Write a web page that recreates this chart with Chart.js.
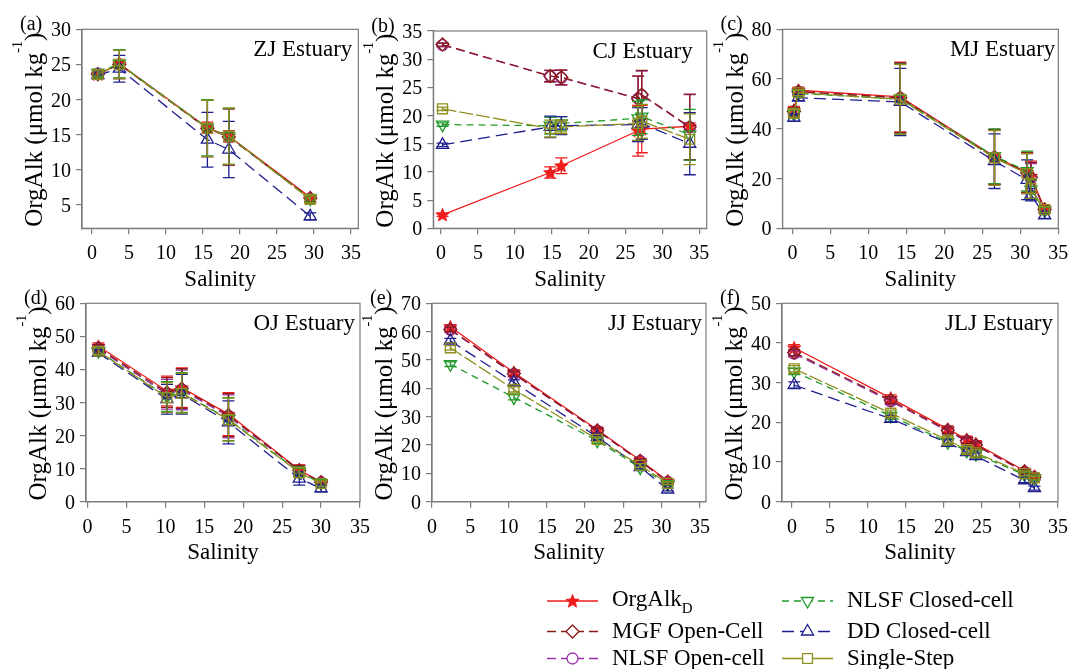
<!DOCTYPE html>
<html>
<head>
<meta charset="utf-8">
<script src="https://cdn.jsdelivr.net/npm/chart.js@4.4.1/dist/chart.umd.min.js"></script>
<style>
html,body{margin:0;padding:0;background:#fff;}
#wrap{position:relative;width:1069px;height:669px;overflow:hidden;background:#fff;}
#wrap canvas{position:absolute;left:0;top:0;}
</style>
</head>
<body>
<div id="wrap">
<canvas id="cA" width="1069" height="669"></canvas>
<canvas id="cB" width="1069" height="669"></canvas>
<canvas id="cC" width="1069" height="669"></canvas>
<canvas id="cD" width="1069" height="669"></canvas>
<canvas id="cE" width="1069" height="669"></canvas>
<canvas id="cF" width="1069" height="669"></canvas>
<canvas id="cL" width="1069" height="669"></canvas>
</div>
<script>
// ---------------- DATA ----------------
const seriesNames = ['OrgAlk_D', 'MGF Open-Cell', 'NLSF Open-cell', 'NLSF Closed-cell', 'DD Closed-cell', 'Single-Step'];
const salinityTicks = [0, 5, 10, 15, 20, 25, 30, 35];

// (a) ZJ Estuary
const zjSalinity   = [0.8, 3.7, 15.6, 18.5, 29.5];
const zjOrgAlkD    = [23.6, 25.1, 16.0, 14.8, 6.1];
const zjMGF        = [23.6, 25.0, 15.9, 14.7, 6.0];
const zjNLSFOpen   = [23.7, 25.0, 15.9, 14.7, 5.9];
const zjNLSFClosed = [23.8, 25.1, 16.0, 14.8, 5.9];
const zjDD         = [23.5, 24.4, 14.3, 12.9, 3.4];
const zjSingle     = [23.6, 25.0, 15.9, 14.8, 5.8];
const zjErrD       = [0.4, 0.6, 0.8, 0.8, 0.3];
const zjErrMGF     = [0.5, 2.0, 4.0, 4.0, 0.5];
const zjErrNLSFO   = [0.5, 2.0, 4.0, 4.0, 0.5];
const zjErrNLSFC   = [0.5, 2.0, 4.0, 4.0, 0.5];
const zjErrDD      = [0.5, 1.9, 3.9, 4.0, 0.5];
const zjErrSingle  = [0.5, 2.0, 4.0, 4.0, 0.5];
const zjYTicks     = [5, 10, 15, 20, 25, 30];

// (b) CJ Estuary
const cjSalinity   = [0.2, 14.8, 16.3, 26.7, 27.2, 33.7];
const cjOrgAlkD    = [2.4, 9.9, 11.1, 17.3, 17.6, 18.1];
const cjMGF        = [32.6, 27.0, 26.8, 23.0, 23.7, 18.0];
const cjNLSFOpen   = [32.5, 27.0, 26.7, 23.0, 23.6, 17.9];
const cjNLSFClosed = [18.4, 18.2, 18.6, 19.5, 19.8, 16.6];
const cjDD         = [14.8, 18.0, 18.2, 18.4, 18.6, 15.0];
const cjSingle     = [21.2, 17.7, 18.0, 18.6, 19.0, 15.8];
const cjErrD       = [0.3, 1.0, 1.4, 4.5, 4.2, 0.6];
const cjErrMGF     = [0.3, 1.0, 1.3, 4.0, 4.3, 5.8];
const cjErrNLSFO   = [0.3, 1.0, 1.3, 4.0, 4.3, 5.8];
const cjErrNLSFC   = [0.3, 1.5, 1.2, 3.0, 3.0, 4.5];
const cjErrDD      = [0.3, 1.9, 1.6, 3.0, 2.8, 5.5];
const cjErrSingle  = [0.3, 1.5, 1.2, 3.0, 3.0, 4.5];
const cjYTicks     = [0, 5, 10, 15, 20, 25, 30, 35];

// (c) MJ Estuary
const mjSalinity   = [0.2, 0.8, 14.2, 26.6, 30.9, 31.4, 33.2];
const mjOrgAlkD    = [47.5, 55.5, 52.8, 28.8, 22.5, 21.0, 7.8];
const mjMGF        = [47.0, 55.0, 52.5, 28.6, 22.3, 20.5, 7.6];
const mjNLSFOpen   = [46.5, 54.8, 52.3, 28.5, 22.0, 20.0, 7.4];
const mjNLSFClosed = [46.0, 54.2, 52.0, 29.0, 23.0, 15.5, 7.2];
const mjDD         = [44.5, 52.5, 50.8, 27.0, 19.5, 13.5, 5.2];
const mjSingle     = [46.2, 54.5, 51.8, 28.3, 22.0, 16.0, 7.5];
const mjErrD       = [1.5, 1.2, 14.0, 11.0, 8.0, 6.0, 1.2];
const mjErrMGF     = [1.5, 1.2, 14.0, 11.0, 8.0, 6.0, 1.2];
const mjErrNLSFO   = [1.5, 1.2, 14.0, 11.0, 8.0, 6.0, 1.2];
const mjErrNLSFC   = [1.5, 1.2, 14.0, 11.0, 8.0, 4.0, 1.2];
const mjErrDD      = [1.5, 1.2, 13.5, 11.0, 8.0, 2.5, 1.2];
const mjErrSingle  = [1.5, 1.2, 14.0, 11.0, 8.0, 4.0, 1.2];
const mjYTicks     = [0, 20, 40, 60, 80];

// (d) OJ Estuary
const ojSalinity   = [1.4, 10.2, 12.1, 18.1, 27.2, 30.0];
const ojOrgAlkD    = [47.0, 33.5, 34.5, 26.5, 9.6, 6.0];
const ojMGF        = [46.5, 33.0, 34.2, 26.2, 9.5, 5.9];
const ojNLSFOpen   = [46.2, 32.5, 33.8, 25.8, 9.4, 5.8];
const ojNLSFClosed = [45.5, 31.8, 33.0, 25.0, 9.0, 5.6];
const ojDD         = [45.0, 31.0, 32.5, 24.0, 7.0, 4.0];
const ojSingle     = [45.5, 31.5, 32.8, 24.8, 8.8, 5.5];
const ojErrD       = [1.0, 4.5, 6.0, 6.5, 1.5, 0.8];
const ojErrMGF     = [1.0, 4.5, 6.0, 6.5, 1.5, 0.8];
const ojErrNLSFO   = [1.0, 4.5, 6.0, 6.5, 1.5, 0.8];
const ojErrNLSFC   = [1.0, 4.5, 6.0, 6.5, 1.5, 0.8];
const ojErrDD      = [1.0, 4.5, 6.0, 6.5, 2.0, 1.0];
const ojErrSingle  = [1.0, 4.5, 6.0, 6.5, 1.5, 0.8];
const ojYTicks     = [0, 10, 20, 30, 40, 50, 60];

// (e) JJ Estuary
const jjSalinity   = [2.4, 10.7, 21.6, 27.2, 30.8];
const jjOrgAlkD    = [61.7, 45.6, 25.4, 14.6, 7.3];
const jjMGF        = [60.8, 45.2, 25.1, 14.4, 7.0];
const jjNLSFOpen   = [60.6, 45.0, 25.0, 14.3, 7.0];
const jjNLSFClosed = [48.5, 36.8, 21.5, 12.0, 6.2];
const jjDD         = [56.8, 42.1, 22.8, 12.2, 4.3];
const jjSingle     = [54.3, 39.6, 22.0, 12.8, 6.5];
const jjErrD       = [0.8, 0.9, 0.9, 0.6, 0.5];
const jjErrMGF     = [0.8, 0.9, 0.9, 0.6, 0.5];
const jjErrNLSFO   = [0.8, 0.9, 0.9, 0.6, 0.5];
const jjErrNLSFC   = [0.8, 0.9, 0.9, 0.6, 0.5];
const jjErrDD      = [0.8, 0.9, 0.9, 0.6, 0.5];
const jjErrSingle  = [0.8, 0.9, 0.9, 0.6, 0.5];
const jjYTicks     = [0, 10, 20, 30, 40, 50, 60, 70];

// (f) JLJ Estuary
const jljSalinity   = [0.3, 13.0, 20.5, 23.0, 24.2, 30.6, 31.9];
const jljOrgAlkD    = [38.8, 26.1, 18.3, 15.7, 14.6, 7.8, 6.4];
const jljMGF        = [37.6, 25.6, 18.0, 15.4, 14.3, 7.6, 6.2];
const jljNLSFOpen   = [37.3, 25.3, 17.8, 15.2, 14.1, 7.5, 6.1];
const jljNLSFClosed = [32.8, 21.6, 15.0, 12.8, 12.0, 6.8, 5.9];
const jljDD         = [29.4, 20.9, 14.8, 12.5, 11.5, 5.4, 3.4];
const jljSingle     = [33.5, 22.3, 15.5, 13.1, 12.3, 7.1, 6.0];
const jljErrD       = [0.8, 0.8, 0.8, 0.8, 0.8, 0.6, 0.5];
const jljErrMGF     = [0.8, 0.8, 0.8, 0.8, 0.8, 0.6, 0.5];
const jljErrNLSFO   = [0.8, 0.8, 0.8, 0.8, 0.8, 0.6, 0.5];
const jljErrNLSFC   = [0.8, 0.8, 0.8, 0.8, 0.8, 0.6, 0.5];
const jljErrDD      = [0.8, 0.8, 0.8, 0.8, 0.8, 0.6, 0.5];
const jljErrSingle  = [0.8, 0.8, 0.8, 0.8, 0.8, 0.6, 0.5];
const jljYTicks     = [0, 10, 20, 30, 40, 50];

// ---------------- STYLE ----------------
document.querySelectorAll('#wrap canvas').forEach(c => c.getContext('2d', {willReadFrequently: true}));

const FONT = '"Liberation Serif", serif';
Chart.defaults.font.family = FONT;
Chart.defaults.color = '#000';
const seriesColors  = ['#f01c1c', '#8b1a1a', '#9932a8', '#1f9a2a', '#1e1e8e', '#8f8f1f'];
const seriesDash    = [[], [9, 5], [9, 5], [7, 5], [12, 6], [14, 3]];
const seriesMarkers = ['star', 'rectRot', 'circle', 'triangleDown', 'triangle', 'rect'];
const markerRadius  = [7, 6.5, 5.5, 7, 7, 7];
const drawOrder     = [5, 3, 4, 2, 1, 0];
const frameColor = '#7a7a7a';
const HIDDEN = 'rgba(0,0,0,0)';

function starPath(ctx, x, y, r) {
  ctx.beginPath();
  for (let k = 0; k < 10; k++) {
    const rr = k % 2 ? r * 0.45 : r;
    const a = -Math.PI / 2 + k * Math.PI / 5;
    ctx.lineTo(x + rr * Math.cos(a), y + 0.5 + rr * Math.sin(a));
  }
  ctx.closePath();
}
function drawStar(ctx, x, y, r, color) {
  ctx.save();
  ctx.setLineDash([]);
  starPath(ctx, x, y, r);
  ctx.fillStyle = color; ctx.fill();
  ctx.strokeStyle = color; ctx.lineWidth = 0.8; ctx.stroke();
  ctx.restore();
}

function drawYTitle(ctx, area) {
  const cx = area.left, cy = (area.top + area.bottom) / 2 + 1;
  const main = 'OrgAlk (\u03bcmol kg', sup = '-1', end = ')';
  ctx.save();
  ctx.translate(cx, cy);
  ctx.rotate(-Math.PI / 2);
  ctx.fillStyle = '#000';
  ctx.textBaseline = 'alphabetic';
  ctx.textAlign = 'left';
  ctx.font = '25px ' + FONT;
  const w1 = ctx.measureText(main).width;
  const w3 = ctx.measureText(end).width;
  ctx.font = '14px ' + FONT;
  const w2 = ctx.measureText(sup).width;
  let x = -(w1 + w2 + w3) / 2;
  ctx.font = '25px ' + FONT;
  ctx.fillText(main, x, -40);
  x += w1;
  ctx.font = '14px ' + FONT;
  ctx.fillText(sup, x, -60);
  x += w2;
  ctx.font = '25px ' + FONT;
  ctx.fillText(end, x, -40);
  ctx.restore();
}

// axis labels drawn at the positions given by the chart's own scales
function drawAxisText(chart, yTickValues) {
  const ctx = chart.ctx, a = chart.chartArea, xs = chart.scales.x, ys = chart.scales.y;
  ctx.save();
  ctx.fillStyle = '#000';
  ctx.textBaseline = 'alphabetic';
  ctx.font = '20px ' + FONT;
  ctx.textAlign = 'center';
  xs.ticks.forEach(t => ctx.fillText(String(t.value), xs.getPixelForValue(t.value), a.bottom + 31));
  ctx.textAlign = 'right';
  ys.ticks.forEach(t => ctx.fillText(String(t.value), a.left - 11, ys.getPixelForValue(t.value) + 7));
  ctx.font = '23px ' + FONT;
  ctx.textAlign = 'center';
  ctx.fillText(xs.options.title.text, (a.left + a.right) / 2, a.bottom + 57.5);
  ctx.restore();
}

const panelPlugin = {
  id: 'panelDecor',
  beforeDatasetDraw(chart, args) {
    const ds = chart.data.datasets[args.index];
    if (!ds.errors) return;
    const xs = chart.scales.x, ys = chart.scales.y, ctx = chart.ctx;
    ctx.save();
    ctx.strokeStyle = ds.borderColor;
    ctx.lineWidth = 1.3;
    ctx.setLineDash([]);
    ds.data.forEach((pt, j) => {
      const e = ds.errors[j];
      if (!e) return;
      const px = xs.getPixelForValue(pt.x);
      const y1 = ys.getPixelForValue(pt.y + e);
      const y2 = ys.getPixelForValue(pt.y - e);
      ctx.beginPath();
      ctx.moveTo(px, y1); ctx.lineTo(px, y2);
      ctx.moveTo(px - 6, y1); ctx.lineTo(px + 6, y1);
      ctx.moveTo(px - 6, y2); ctx.lineTo(px + 6, y2);
      ctx.stroke();
    });
    ctx.restore();
  },
  afterDatasetDraw(chart, args) {
    const ds = chart.data.datasets[args.index];
    if (!ds.starMarker) return;
    args.meta.data.forEach(el => drawStar(chart.ctx, el.x, el.y, markerRadius[0], seriesColors[0]));
  },
  afterDraw(chart) {
    const o = chart.options.plugins.panelDecor;
    const a = chart.chartArea, ctx = chart.ctx;
    ctx.save();
    ctx.strokeStyle = frameColor;
    ctx.lineWidth = 1.2;
    ctx.strokeRect(a.left, a.top, a.right - a.left, a.bottom - a.top);
    ctx.fillStyle = '#000';
    ctx.textBaseline = 'alphabetic';
    ctx.font = '20px ' + FONT;
    ctx.textAlign = 'left';
    ctx.fillText(o.tag, a.left - 62, a.top + 1);
    ctx.font = '23px ' + FONT;
    ctx.textAlign = 'right';
    ctx.fillText(o.name, a.right - o.nameInset, a.top + 27);
    ctx.restore();
    drawAxisText(chart);
    drawYTitle(ctx, a);
  }
};

function makePanel(p) {
  const datasets = seriesNames.map((name, i) => ({
    label: name,
    data: p.x.map((sx, j) => ({x: sx, y: p.ys[i][j]})),
    errors: p.es[i],
    starMarker: seriesMarkers[i] === 'star',
    borderColor: seriesColors[i],
    borderWidth: 1.3,
    borderDash: seriesDash[i],
    fill: false,
    tension: 0,
    pointStyle: seriesMarkers[i] === 'triangleDown' ? 'triangle' : (seriesMarkers[i] === 'star' ? 'circle' : seriesMarkers[i]),
    pointRotation: seriesMarkers[i] === 'triangleDown' ? 180 : 0,
    pointRadius: seriesMarkers[i] === 'star' ? 0 : markerRadius[i],
    pointBorderColor: seriesColors[i],
    pointBackgroundColor: 'rgba(255,255,255,0)',
    pointBorderWidth: 1.3,
    order: drawOrder[i]
  }));
  const A = p.area;
  return new Chart(document.getElementById(p.id), {
    type: 'line',
    data: {datasets},
    options: {
      responsive: false, animation: false, events: [],
      layout: {padding: {left: A.l - 60, top: A.t, right: 1069 - A.r, bottom: 669 - A.b - 63}},
      plugins: {legend: {display: false}, tooltip: {enabled: false},
                panelDecor: {tag: p.tag, name: p.name, nameInset: p.nameInset}},
      scales: {
        x: {
          type: 'linear', min: p.xmin, max: p.xmax,
          afterBuildTicks: s => { s.ticks = salinityTicks.map(v => ({value: v})); },
          afterFit: s => { s.height = 63; s.paddingLeft = 0; s.paddingRight = 0; },
          ticks: {font: {family: FONT, size: 20}, color: HIDDEN, padding: 7, maxRotation: 0, autoSkip: false},
          grid: {display: true, drawOnChartArea: false, drawTicks: true, tickLength: 6, color: frameColor, lineWidth: 1.2},
          border: {display: true, color: frameColor, width: 1.2},
          title: {display: false, text: 'Salinity'}
        },
        y: {
          type: 'linear', min: p.ymin, max: p.ymax,
          afterBuildTicks: s => { s.ticks = p.yt.map(v => ({value: v})); },
          afterFit: s => { s.width = 60; s.paddingTop = 0; s.paddingBottom = 0; },
          ticks: {font: {family: FONT, size: 20}, color: HIDDEN, padding: 5, autoSkip: false},
          grid: {display: true, drawOnChartArea: false, drawTicks: true, tickLength: 6, color: frameColor, lineWidth: 1.2},
          border: {display: true, color: frameColor, width: 1.2}
        }
      }
    },
    plugins: [panelPlugin]
  });
}

const panels = [
  {id: 'cA', tag: '(a)', name: 'ZJ Estuary', nameInset: 6, x: zjSalinity,
   ys: [zjOrgAlkD, zjMGF, zjNLSFOpen, zjNLSFClosed, zjDD, zjSingle],
   es: [zjErrD, zjErrMGF, zjErrNLSFO, zjErrNLSFC, zjErrDD, zjErrSingle],
   xmin: -1.35, xmax: 36, ymin: 1.7, ymax: 30, yt: zjYTicks,
   area: {l: 82, t: 29.3, r: 358.3, b: 228.3}},
  {id: 'cB', tag: '(b)', name: 'CJ Estuary', nameInset: 14, x: cjSalinity,
   ys: [cjOrgAlkD, cjMGF, cjNLSFOpen, cjNLSFClosed, cjDD, cjSingle],
   es: [cjErrD, cjErrMGF, cjErrNLSFO, cjErrNLSFC, cjErrDD, cjErrSingle],
   xmin: -1.05, xmax: 36, ymin: 0, ymax: 35, yt: cjYTicks,
   area: {l: 433.3, t: 31, r: 706.7, b: 228.3}},
  {id: 'cC', tag: '(c)', name: 'MJ Estuary', nameInset: 3, x: mjSalinity,
   ys: [mjOrgAlkD, mjMGF, mjNLSFOpen, mjNLSFClosed, mjDD, mjSingle],
   es: [mjErrD, mjErrMGF, mjErrNLSFO, mjErrNLSFC, mjErrDD, mjErrSingle],
   xmin: -1.3, xmax: 35, ymin: 0, ymax: 80, yt: mjYTicks,
   area: {l: 782.5, t: 29.3, r: 1058.3, b: 228.3}},
  {id: 'cD', tag: '(d)', name: 'OJ Estuary', nameInset: 5, x: ojSalinity,
   ys: [ojOrgAlkD, ojMGF, ojNLSFOpen, ojNLSFClosed, ojDD, ojSingle],
   es: [ojErrD, ojErrMGF, ojErrNLSFO, ojErrNLSFC, ojErrDD, ojErrSingle],
   xmin: -0.2, xmax: 35, ymin: 0, ymax: 60, yt: ojYTicks,
   area: {l: 86, t: 303.3, r: 360, b: 501.7}},
  {id: 'cE', tag: '(e)', name: 'JJ Estuary', nameInset: 4, x: jjSalinity,
   ys: [jjOrgAlkD, jjMGF, jjNLSFOpen, jjNLSFClosed, jjDD, jjSingle],
   es: [jjErrD, jjErrMGF, jjErrNLSFO, jjErrNLSFC, jjErrDD, jjErrSingle],
   xmin: 0, xmax: 35.8, ymin: 0, ymax: 70, yt: jjYTicks,
   area: {l: 432, t: 303.3, r: 706, b: 501.7}},
  {id: 'cF', tag: '(f)', name: 'JLJ Estuary', nameInset: 5, x: jljSalinity,
   ys: [jljOrgAlkD, jljMGF, jljNLSFOpen, jljNLSFClosed, jljDD, jljSingle],
   es: [jljErrD, jljErrMGF, jljErrNLSFO, jljErrNLSFC, jljErrDD, jljErrSingle],
   xmin: -1.3, xmax: 35, ymin: 0, ymax: 50, yt: jljYTicks,
   area: {l: 782, t: 303.3, r: 1058, b: 501.7}}
];
panels.forEach(makePanel);

// ---------------- LEGEND ----------------
function drawMarker(ctx, i, x, y) {
  const m = seriesMarkers[i], r = markerRadius[i], col = seriesColors[i];
  if (m === 'star') { drawStar(ctx, x, y, r, col); return; }
  ctx.save();
  ctx.setLineDash([]);
  ctx.strokeStyle = col; ctx.lineWidth = 1.3;
  ctx.fillStyle = '#fff';
  ctx.beginPath();
  if (m === 'rectRot') {
    ctx.moveTo(x, y - r); ctx.lineTo(x + r, y); ctx.lineTo(x, y + r); ctx.lineTo(x - r, y); ctx.closePath();
  } else if (m === 'circle') {
    ctx.arc(x, y, r, 0, Math.PI * 2);
  } else if (m === 'triangle' || m === 'triangleDown') {
    const s = m === 'triangle' ? 1 : -1;
    for (let k = 0; k < 3; k++) {
      const a = k * 2 * Math.PI / 3;
      ctx.lineTo(x + Math.sin(a) * r, y - s * Math.cos(a) * r);
    }
    ctx.closePath();
  } else if (m === 'rect') {
    const h = r * Math.SQRT1_2;
    ctx.rect(x - h, y - h, 2 * h, 2 * h);
  }
  ctx.fill(); ctx.stroke();
  ctx.restore();
}

const legendPlugin = {
  id: 'customLegend',
  afterDraw(chart) {
    const ctx = chart.ctx;
    const cols = [{x0: 547, x1: 598, tx: 612}, {x0: 782, x1: 833, tx: 847}];
    const rows = [601, 631.5, 658.5];
    seriesNames.forEach((name, i) => {
      const c = cols[Math.floor(i / 3)], y = rows[i % 3];
      ctx.save();
      ctx.strokeStyle = seriesColors[i]; ctx.lineWidth = 1.3;
      ctx.setLineDash(i === 5 ? [] : seriesDash[i]);
      ctx.beginPath(); ctx.moveTo(c.x0, y); ctx.lineTo(c.x1, y); ctx.stroke();
      ctx.restore();
      drawMarker(ctx, i, (c.x0 + c.x1) / 2, y);
      ctx.save();
      ctx.fillStyle = '#000'; ctx.textAlign = 'left'; ctx.textBaseline = 'alphabetic';
      ctx.font = '23px ' + FONT;
      if (name === 'OrgAlk_D') {
        ctx.fillText('OrgAlk', c.tx, y + 5);
        const w = ctx.measureText('OrgAlk').width;
        ctx.font = '15px ' + FONT;
        ctx.fillText('D', c.tx + w, y + 12);
      } else {
        ctx.fillText(name, c.tx, y + 6);
      }
      ctx.restore();
    });
  }
};

new Chart(document.getElementById('cL'), {
  type: 'line',
  data: {datasets: []},
  options: {responsive: false, animation: false, events: [],
    plugins: {legend: {display: false}, tooltip: {enabled: false}},
    scales: {x: {display: false}, y: {display: false}}},
  plugins: [legendPlugin]
});
</script>
</body>
</html>
